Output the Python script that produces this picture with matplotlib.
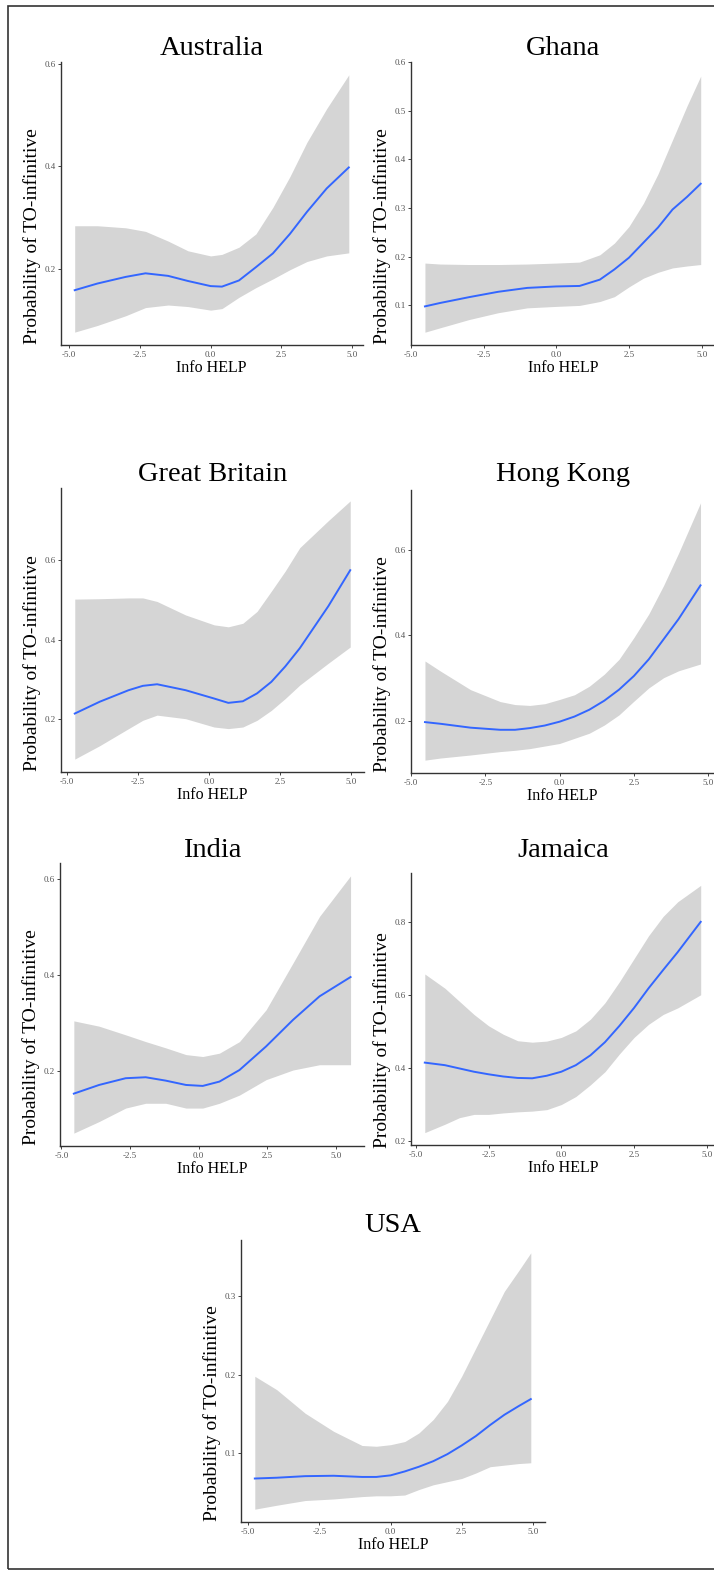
import numpy as np
import matplotlib
matplotlib.use("Agg")
from matplotlib import pyplot as plt
from matplotlib.patches import Rectangle

plt.rcParams['font.family'] = ['Liberation Serif', 'DejaVu Serif']

# ---- data (x = Info HELP, fit / upper / lower band) ----
aus_x = [-4.8, -4.0, -3.0, -2.3, -1.5, -0.8, 0.0, 0.4, 1.0, 1.6, 2.2, 2.8, 3.4, 4.1, 4.88]
aus_fit = [0.158, 0.171, 0.184, 0.191, 0.186, 0.176, 0.166, 0.165, 0.177, 0.203, 0.230, 0.268, 0.311, 0.357, 0.398]
aus_hi = [0.284, 0.284, 0.280, 0.273, 0.254, 0.235, 0.225, 0.228, 0.242, 0.268, 0.320, 0.380, 0.447, 0.513, 0.579]
aus_lo = [0.076, 0.089, 0.108, 0.124, 0.129, 0.126, 0.119, 0.122, 0.144, 0.163, 0.180, 0.198, 0.214, 0.225, 0.231]

gh_x = [-4.52, -4.0, -3.0, -2.0, -1.0, 0.0, 0.8, 1.5, 2.0, 2.5, 3.0, 3.5, 4.0, 4.5, 4.97]
gh_fit = [0.098, 0.105, 0.117, 0.128, 0.136, 0.139, 0.140, 0.153, 0.174, 0.198, 0.229, 0.260, 0.297, 0.323, 0.350]
gh_hi = [0.187, 0.185, 0.184, 0.184, 0.185, 0.187, 0.189, 0.204, 0.228, 0.262, 0.310, 0.370, 0.440, 0.510, 0.571]
gh_lo = [0.045, 0.054, 0.071, 0.085, 0.095, 0.098, 0.100, 0.108, 0.118, 0.138, 0.156, 0.168, 0.177, 0.181, 0.184]

gb_x = [-4.71, -3.83, -2.82, -2.32, -1.82, -0.82, 0.18, 0.68, 1.19, 1.69, 2.19, 2.68, 3.19, 4.19, 4.96]
gb_fit = [0.213, 0.243, 0.272, 0.283, 0.287, 0.272, 0.251, 0.240, 0.244, 0.264, 0.293, 0.332, 0.378, 0.484, 0.575]
gb_hi = [0.502, 0.503, 0.505, 0.505, 0.496, 0.462, 0.437, 0.432, 0.441, 0.471, 0.522, 0.573, 0.632, 0.700, 0.750]
gb_lo = [0.098, 0.132, 0.175, 0.196, 0.209, 0.200, 0.179, 0.175, 0.179, 0.196, 0.221, 0.251, 0.285, 0.340, 0.381]

hk_x = [-4.53, -4.0, -3.0, -2.0, -1.5, -1.0, -0.5, 0.0, 0.5, 1.0, 1.5, 2.0, 2.5, 3.0, 3.5, 4.0, 4.74]
hk_fit = [0.197, 0.193, 0.184, 0.179, 0.179, 0.183, 0.189, 0.198, 0.210, 0.226, 0.247, 0.273, 0.305, 0.344, 0.391, 0.438, 0.517]
hk_hi = [0.340, 0.316, 0.273, 0.245, 0.238, 0.236, 0.240, 0.250, 0.261, 0.281, 0.309, 0.344, 0.395, 0.450, 0.517, 0.592, 0.710]
hk_lo = [0.108, 0.113, 0.120, 0.128, 0.131, 0.135, 0.141, 0.147, 0.159, 0.171, 0.190, 0.214, 0.246, 0.277, 0.301, 0.317, 0.333]

in_x = [-4.55, -3.63, -2.66, -1.93, -1.2, -0.46, 0.15, 0.76, 1.49, 2.46, 3.44, 4.41, 5.54]
in_fit = [0.154, 0.172, 0.186, 0.188, 0.181, 0.172, 0.170, 0.179, 0.203, 0.252, 0.307, 0.356, 0.396]
in_hi = [0.305, 0.294, 0.276, 0.262, 0.249, 0.235, 0.231, 0.238, 0.262, 0.328, 0.425, 0.522, 0.606]
in_lo = [0.072, 0.096, 0.124, 0.134, 0.134, 0.124, 0.124, 0.134, 0.151, 0.183, 0.203, 0.214, 0.214]

jm_x = [-4.69, -4.0, -3.5, -3.0, -2.5, -2.0, -1.5, -1.0, -0.5, 0.0, 0.5, 1.0, 1.5, 2.0, 2.5, 3.0, 3.5, 4.0, 4.79]
jm_fit = [0.414, 0.407, 0.398, 0.389, 0.382, 0.376, 0.372, 0.371, 0.378, 0.389, 0.407, 0.434, 0.470, 0.515, 0.564, 0.618, 0.668, 0.717, 0.800]
jm_hi = [0.657, 0.618, 0.582, 0.546, 0.515, 0.492, 0.474, 0.470, 0.473, 0.483, 0.501, 0.533, 0.578, 0.636, 0.699, 0.762, 0.815, 0.855, 0.900]
jm_lo = [0.222, 0.245, 0.263, 0.272, 0.272, 0.276, 0.279, 0.281, 0.285, 0.299, 0.321, 0.353, 0.389, 0.438, 0.483, 0.519, 0.546, 0.564, 0.600]

us_x = [-4.77, -4.0, -3.0, -2.0, -1.0, -0.5, 0.0, 0.5, 1.0, 1.5, 2.0, 2.5, 3.0, 3.5, 4.0, 4.5, 4.93]
us_fit = [0.068, 0.069, 0.071, 0.0715, 0.070, 0.070, 0.072, 0.077, 0.083, 0.090, 0.099, 0.110, 0.122, 0.136, 0.149, 0.160, 0.169]
us_hi = [0.198, 0.181, 0.151, 0.128, 0.110, 0.109, 0.111, 0.115, 0.126, 0.143, 0.166, 0.198, 0.234, 0.270, 0.306, 0.332, 0.355]
us_lo = [0.029, 0.034, 0.040, 0.042, 0.045, 0.046, 0.046, 0.047, 0.054, 0.060, 0.064, 0.068, 0.075, 0.083, 0.085, 0.087, 0.088]

x_ticks = [-5.0, -2.5, 0.0, 2.5, 5.0]
x_ticklabels = ['-5.0', '-2.5', '0.0', '2.5', '5.0']

panels = [
    ('Australia', aus_x, aus_fit, aus_hi, aus_lo, [0.2, 0.4, 0.6]),
    ('Ghana', gh_x, gh_fit, gh_hi, gh_lo, [0.1, 0.2, 0.3, 0.4, 0.5, 0.6]),
    ('Great Britain', gb_x, gb_fit, gb_hi, gb_lo, [0.2, 0.4, 0.6]),
    ('Hong Kong', hk_x, hk_fit, hk_hi, hk_lo, [0.2, 0.4, 0.6]),
    ('India', in_x, in_fit, in_hi, in_lo, [0.2, 0.4, 0.6]),
    ('Jamaica', jm_x, jm_fit, jm_hi, jm_lo, [0.2, 0.4, 0.6, 0.8]),
    ('USA', us_x, us_fit, us_hi, us_lo, [0.1, 0.2, 0.3]),
]

# axes boxes in pixels (left, top, right, bottom) and title baselines
W, H = 714, 1573
boxes = [(61, 62, 362.5, 345), (411, 62, 714.5, 345),
         (61, 488, 364, 772), (411, 490, 714.3, 773),
         (60, 863, 364.4, 1146), (411, 873, 714.5, 1145),
         (241, 1240, 544.6, 1522)]
title_y = [55, 55, 481, 481, 857, 857, 1232]

fig = plt.figure(figsize=(W / 100, H / 100), dpi=100)

for (name, x, fit, hi, lo, yt), (l, t, r, b), ty in zip(panels, boxes, title_y):
    ax = fig.add_axes([l / W, 1 - b / H, (r - l) / W, (b - t) / H])
    ax.fill_between(x, lo, hi, color='#d5d5d5', lw=0)
    ax.plot(x, fit, color='#3366FF', lw=1.4)

    # ggplot-like 5% expansion
    xr = max(x) - min(x)
    ax.set_xlim(min(x) - 0.05 * xr, max(x) + 0.05 * xr)
    yr = max(hi) - min(lo)
    ax.set_ylim(min(lo) - 0.05 * yr, max(hi) + 0.05 * yr)

    ax.set_xticks(x_ticks)
    ax.set_xticklabels(x_ticklabels)
    ax.set_yticks(yt)
    ax.set_yticklabels(['%.1f' % v for v in yt])
    ax.tick_params(labelsize=6.5, labelcolor='#555555', color='#444444',
                   length=2.5, width=0.7, pad=1.5)
    for s in ['top', 'right']:
        ax.spines[s].set_visible(False)
    for s in ['left', 'bottom']:
        ax.spines[s].set_color('#333333')
        ax.spines[s].set_linewidth(1.0)

    ax.set_xlabel('Info HELP', fontsize=11.5, va='center')
    ax.xaxis.set_label_coords(0.5, -23 / (b - t))
    ax.set_ylabel('Probability of TO-infinitive', fontsize=14, va='center')
    ax.yaxis.set_label_coords(-29 / (r - l), 0.385)

    fig.text((l + r) / 2 / W, 1 - ty / H, name, ha='center', va='baseline',
             fontsize=20.5)

# outer frame
fig.add_artist(Rectangle((8 / W, 1 - 1569 / H), 1.2, (1569 - 6) / H,
                         transform=fig.transFigure, fill=False,
                         ec='#333333', lw=1.2, clip_on=False))

fig.savefig('out.png', dpi=100)
